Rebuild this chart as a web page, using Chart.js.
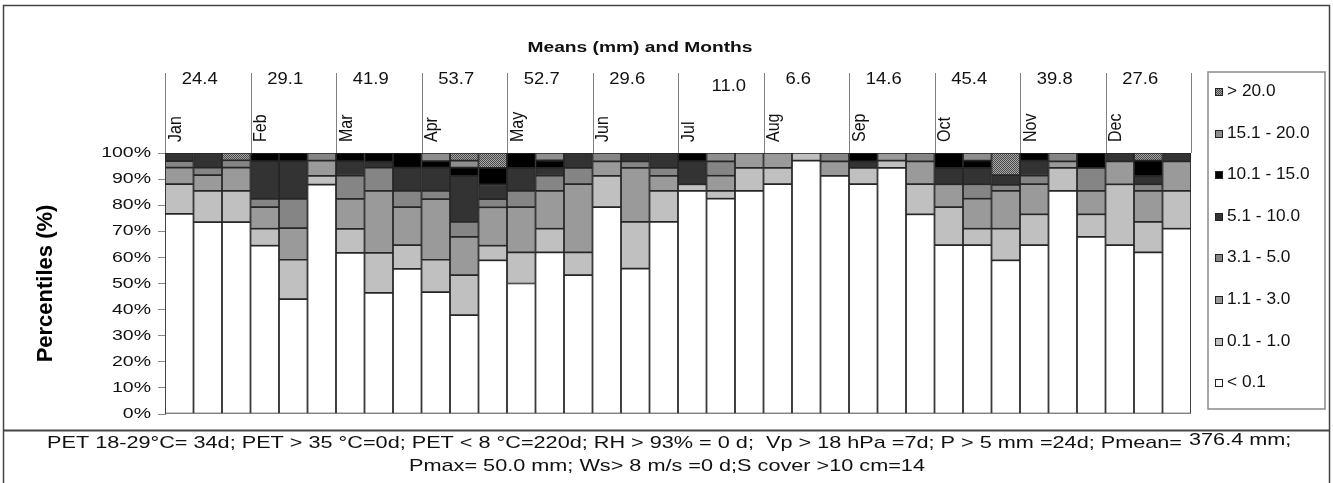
<!DOCTYPE html>
<html>
<head>
<meta charset="utf-8">
<script src="https://cdn.jsdelivr.net/npm/chart.js@4"></script>
<style>
  body { margin: 0; background: #fff; }
  #wrap { position: relative; width: 1333px; height: 483px; }
</style>
</head>
<body>
<div id="wrap"><canvas id="chart"></canvas></div>
<script>
// months and the three decades of each month
const months = ['Jan', 'Feb', 'Mar', 'Apr', 'May', 'Jun', 'Jul', 'Aug', 'Sep', 'Oct', 'Nov', 'Dec'];
const decades = ['1', '2', '3'];
const categories = months.flatMap(m => decades.map(d => m + ' ' + d));
const monthMeans = ['24.4', '29.1', '41.9', '53.7', '52.7', '29.6', '11.0', '6.6', '14.6', '45.4', '39.8', '27.6'];

const rangeLabels = ['< 0.1', '0.1 - 1.0', '1.1 - 3.0', '3.1 - 5.0', '5.1 - 10.0', '10.1 - 15.0', '15.1 - 20.0', '> 20.0'];
const yTickLabels = ['0%', '10%', '20%', '30%', '40%', '50%', '60%', '70%', '80%', '90%', '100%'];

// percent of days in each precipitation class, per decade
const below01 = [76.7, 73.5, 73.5, 64.5, 44.0, 87.9, 61.7, 46.4, 55.6, 46.7, 37.9, 58.9, 50.0, 61.9, 53.2, 79.3, 55.7, 73.6, 85.5, 82.5, 85.5, 88.1, 97.1, 91.2, 88.1, 94.3, 76.5, 64.7, 64.7, 58.9, 64.7, 85.5, 67.9, 64.7, 61.9, 71.0];
const r01to10 = [11.4, 12.0, 12.0, 6.5, 15.1, 3.3, 9.2, 15.3, 9.1, 12.4, 15.3, 5.6, 11.9, 9.1, 8.7, 11.9, 17.9, 11.9, 2.5, 3.0, 8.8, 6.2, 2.9, 0, 6.2, 2.8, 11.6, 14.6, 6.3, 12.1, 11.8, 8.8, 8.6, 23.3, 11.7, 14.5];
const r11to30 = [6.3, 6.0, 8.9, 8.3, 12.1, 5.9, 11.5, 23.8, 14.6, 23.2, 14.7, 14.7, 17.4, 14.5, 26.2, 5.6, 20.7, 5.7, 0, 5.8, 5.7, 5.7, 0, 5.6, 0, 2.9, 8.7, 8.7, 11.5, 14.5, 11.6, 2.5, 9.0, 8.8, 11.9, 11.3];
const r31to50 = [2.5, 2.9, 2.8, 3.1, 11.2, 2.9, 8.9, 8.9, 6.2, 3.2, 5.7, 3.1, 6.2, 5.8, 6.2, 3.2, 2.5, 3.1, 0, 5.5, 0, 0, 0, 3.2, 0, 0, 3.2, 0, 5.5, 2.3, 3.2, 3.2, 8.8, 0, 2.5, 0];
const r51to100 = [3.1, 5.6, 0, 14.5, 14.5, 0, 5.6, 2.3, 8.9, 8.9, 17.6, 5.7, 8.8, 3.0, 5.7, 0, 3.2, 5.7, 8.9, 0, 0, 0, 0, 0, 2.5, 0, 0, 6.3, 6.3, 3.7, 5.8, 0, 0, 3.2, 3.2, 3.2];
const r101to150 = [0, 0, 0, 3.1, 3.1, 0, 3.1, 3.3, 5.6, 2.5, 3.2, 6.3, 5.7, 2.9, 0, 0, 0, 0, 3.1, 0, 0, 0, 0, 0, 3.2, 0, 0, 5.7, 2.8, 0, 2.9, 0, 5.7, 0, 5.9, 0];
const r151to200 = [0, 0, 0, 0, 0, 0, 0, 0, 0, 3.1, 2.7, 0, 0, 2.8, 0, 0, 0, 0, 0, 3.2, 0, 0, 0, 0, 0, 0, 0, 0, 2.9, 0, 0, 0, 0, 0, 0, 0];
const above200 = [0, 0, 2.8, 0, 0, 0, 0, 0, 0, 0, 2.9, 5.7, 0, 0, 0, 0, 0, 0, 0, 0, 0, 0, 0, 0, 0, 0, 0, 0, 0, 8.5, 0, 0, 0, 0, 2.9, 0];

const footLine1 = 'PET 18-29°C= 34d; PET > 35 °C=0d; PET < 8 °C=220d; RH > 93% = 0 d;  Vp > 18 hPa =7d; P > 5 mm =24d; Pmean=';
const footTail = '376.4 mm;';
const footLine2 = 'Pmax= 50.0 mm; Ws> 8 m/s =0 d;S cover >10 cm=14';

const canvas = document.getElementById('chart');
const ctx = canvas.getContext('2d');

// dotted fill for the > 20.0 class
const makePattern = () => {
    const c = document.createElement('canvas');
    c.width = 2; c.height = 2;
    const p = c.getContext('2d');
    p.fillStyle = '#a8a8a8';
    p.fillRect(0, 0, 2, 2);
    p.fillStyle = '#484848';
    p.fillRect(0, 0, 1, 1);
    p.fillRect(1, 1, 1, 1);
    return ctx.createPattern(c, 'repeat');
};

const series = [below01, r01to10, r11to30, r31to50, r51to100, r101to150, r151to200, above200];
const fills = ['#ffffff', '#c0c0c0', '#9a9a9a', '#858585', '#333333', '#000000', '#8e8e8e', makePattern()];

const datasets = series.map((vals, i) => ({
    label: rangeLabels[i],
    data: vals.map(v => v === 0 ? null : v),
    backgroundColor: fills[i],
    borderColor: '#262626',
    borderWidth: 1.2,
    borderSkipped: false,
    categoryPercentage: 1,
    barPercentage: 1
}));

const font = 'Arial, "Liberation Sans", sans-serif';

const stretchText = (c, txt, x, y, sx, align) => {
    c.save();
    c.translate(x, y);
    c.scale(sx, 1);
    c.textAlign = align;
    c.fillText(txt, 0, 0);
    c.restore();
};

const decorations = {
    id: 'decorations',
    afterDraw(chart) {
        const c = chart.ctx;
        const xs = chart.scales.x;
        const ys = chart.scales.y;
        const area = chart.chartArea;
        const step = xs.getPixelForValue(1) - xs.getPixelForValue(0);

        c.save();
        c.textBaseline = 'middle';
        c.fillStyle = '#111';

        // outer frame and footnote separator
        c.strokeStyle = '#444';
        c.lineWidth = 1.5;
        c.strokeRect(3.5, 5.5, 1326, 480);
        c.lineWidth = 2;
        c.beginPath();
        c.moveTo(3, 430.5);
        c.lineTo(1330, 430.5);
        c.stroke();

        // title
        c.font = 'bold 14px ' + font;
        const tw = c.measureText('Means (mm) and Months').width;
        stretchText(c, 'Means (mm) and Months', 640, 48, 225 / tw, 'center');

        // month header: separators, means, rotated month names
        c.strokeStyle = '#808080';
        c.lineWidth = 1;
        for (let m = 0; m <= months.length; m++) {
            const bx = Math.round(xs.getPixelForValue(m * 3) - step / 2) + 0.5;
            c.beginPath();
            c.moveTo(bx, 73);
            c.lineTo(bx, area.top);
            c.stroke();
        }
        months.forEach((name, m) => {
            const mid = xs.getPixelForValue(m * 3 + 1);
            const left = xs.getPixelForValue(m * 3) - step / 2;
            c.font = '16px ' + font;
            const jul = name === 'Jul';
            stretchText(c, monthMeans[m], mid + (jul ? 8 : -8), jul ? 87 : 80, 1.15, 'center');
            c.save();
            c.translate(left + 11, 142);
            c.scale(1.1, 1);
            c.rotate(-Math.PI / 2);
            c.textAlign = 'left';
            c.fillText(name, 0, 0);
            c.restore();
        });

        // y tick labels
        c.font = '15px ' + font;
        ys.ticks.forEach((t, i) => {
            stretchText(c, yTickLabels[i], 151, ys.getPixelForValue(t.value), 1.3, 'right');
        });

        // legend
        c.strokeStyle = '#8a8a8a';
        c.lineWidth = 1.5;
        c.strokeRect(1208, 72, 117, 337);
        c.font = '16px ' + font;
        c.lineWidth = 1;
        const order = chart.data.datasets.slice().reverse();
        order.forEach((ds, i) => {
            const yy = Math.round(92 + i * 41.6);
            c.fillStyle = ds.backgroundColor;
            c.fillRect(1215, yy - 4, 8, 8);
            c.strokeStyle = '#222';
            c.strokeRect(1215.5, yy - 3.5, 7, 7);
            c.fillStyle = '#111';
            stretchText(c, ds.label, 1227, yy, 1.08, 'left');
        });

        // footnote
        c.font = '17px ' + font;
        const fw = c.measureText(footLine1).width;
        const sx = (1182 - 47) / fw;
        stretchText(c, footLine1, 47, 443, sx, 'left');
        stretchText(c, footTail, 1189, 440, sx, 'left');
        stretchText(c, footLine2, 667, 466, sx, 'center');
        c.restore();
    }
};

new Chart(ctx, {
    type: 'bar',
    data: { labels: categories, datasets: datasets },
    options: {
        responsive: true,
        maintainAspectRatio: false,
        animation: false,
        layout: { padding: { top: 153, right: 142, bottom: 69, left: 0 } },
        plugins: { legend: { display: false }, tooltip: { enabled: false } },
        scales: {
            x: { stacked: true, display: false },
            y: {
                stacked: true,
                min: 0,
                max: 100,
                afterFit: (scale) => { scale.width = 165; },
                ticks: { stepSize: 10, display: false },
                grid: { drawOnChartArea: false, drawTicks: true, tickLength: 7, color: '#888' },
                border: { display: true, color: '#888' },
                title: {
                    display: true,
                    text: 'Percentiles (%)',
                    color: '#000',
                    font: { family: font, size: 22, weight: 'bold' },
                    padding: { top: 33, bottom: 0 }
                }
            }
        }
    },
    plugins: [decorations]
});
</script>
</body>
</html>
